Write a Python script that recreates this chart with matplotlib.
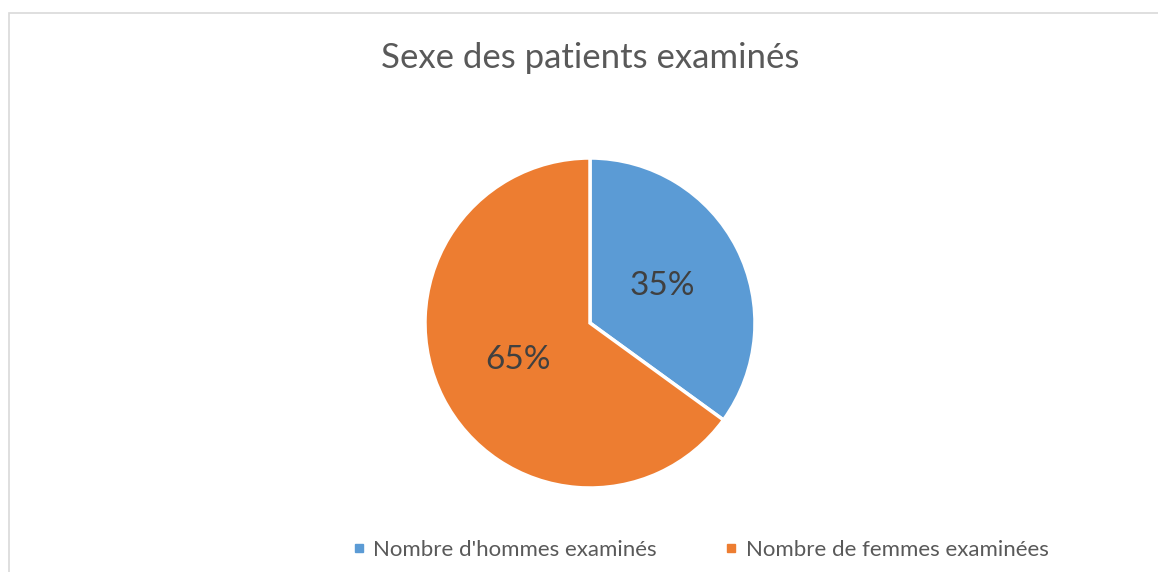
import matplotlib.pyplot as plt
from matplotlib.patches import Rectangle
from matplotlib.lines import Line2D

labels = ["Nombre d'hommes examinés", "Nombre de femmes examinées"]
shares = [35, 65]
colors = ["#5B9BD5", "#ED7D31"]

plt.rcParams['font.family'] = ['Lato', 'DejaVu Sans']

W, H = 1158, 572
fig = plt.figure(figsize=(W / 100, H / 100), dpi=100)

# chart frame (only top and left edge visible in the crop)
fig.patches.append(Rectangle((9 / W, -0.1), 1.2, 1.1 - 13 / H, transform=fig.transFigure,
                             fill=False, edgecolor="#D9D9D9", linewidth=1.2))

cx, cy, r = 590, 323, 165
ax = fig.add_axes([(cx - r) / W, (H - cy - r) / H, 2 * r / W, 2 * r / H])
wedges, texts, autotexts = ax.pie(shares, colors=colors, startangle=90, counterclock=False,
                                  autopct='%1.0f%%', pctdistance=0.49,
                                  wedgeprops=dict(edgecolor="white", linewidth=2.5),
                                  textprops=dict(color="#404040", fontsize=24))
ax.set_xlim(-1, 1)
ax.set_ylim(-1, 1)

fig.text(590 / W, 1 - 58 / H, "Sexe des patients examinés", ha="center", va="center",
         fontsize=25, color="#595959")

handles = [Line2D([], [], marker="s", linestyle="none", markersize=6, color=c) for c in colors]
fig.legend(handles, labels, loc="center", bbox_to_anchor=(700 / W, 1 - 550 / H), ncol=2,
           frameon=False, fontsize=16, labelcolor="#595959", handletextpad=0.3,
           columnspacing=3.0, handlelength=0.7)

fig.savefig("out.png", dpi=100)
